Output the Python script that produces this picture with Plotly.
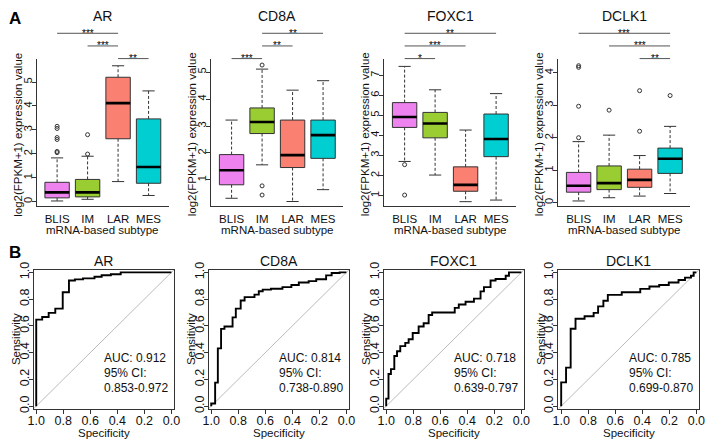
import plotly.graph_objects as go

# ---------------- data ----------------
subtypes = ["BLIS", "IM", "LAR", "MES"]
genes = ["AR", "CD8A", "FOXC1", "DCLK1"]
box_colors = ["#EE82EE", "#9ACD32", "#FA8072", "#00CED1"]

# boxplot statistics (order: BLIS, IM, LAR, MES)
box_q1 = {"AR": [0.16, 0.20, 2.63, 0.77], "CD8A": [0.82, 2.72, 1.46, 1.80],
          "FOXC1": [4.40, 3.88, 1.21, 2.94], "DCLK1": [0.32, 0.40, 0.47, 0.90]}
box_median = {"AR": [0.39, 0.39, 4.12, 1.45], "CD8A": [1.36, 3.15, 1.92, 2.66],
              "FOXC1": [4.92, 4.60, 1.53, 3.82], "DCLK1": [0.52, 0.60, 0.70, 1.35]}
box_q3 = {"AR": [0.81, 0.93, 5.20, 3.46], "CD8A": [1.94, 3.67, 3.22, 3.22],
          "FOXC1": [5.64, 5.15, 2.43, 5.07], "DCLK1": [0.93, 1.13, 1.03, 1.68]}
whisker_low = {"AR": [0.03, 0.10, 0.84, 0.26], "CD8A": [0.32, 1.56, 0.20, 0.64],
               "FOXC1": [2.70, 2.02, 0.69, 0.77], "DCLK1": [0.05, 0.15, 0.20, 0.28]}
whisker_high = {"AR": [1.83, 1.90, 5.68, 4.63], "CD8A": [3.22, 5.11, 4.33, 4.68],
                "FOXC1": [7.45, 6.28, 4.27, 6.09], "DCLK1": [1.88, 2.08, 1.45, 2.35]}
outliers = {"AR": [[2.05, 2.10, 2.60, 2.68, 3.06, 3.15], [1.99, 2.80], [], []],
            "CD8A": [[], [5.26, 0.78, 0.44], [], []],
            "FOXC1": [[2.54, 1.02], [], [], []],
            "DCLK1": [[4.22, 4.17, 2.97, 2.00], [2.85], [2.20, 3.45], [3.30]]}
box_yrange = {"AR": [-0.2, 5.98], "CD8A": [0.016, 5.5], "FOXC1": [0.45, 7.84], "DCLK1": [-0.12, 4.44]}

# significance comparisons, listed top to bottom (group indices 1..4)
sig_from = {"AR": [1, 2, 3], "CD8A": [2, 2, 1], "FOXC1": [1, 1, 1], "DCLK1": [1, 2, 3]}
sig_to = {"AR": [3, 3, 4], "CD8A": [4, 3, 2], "FOXC1": [4, 3, 2], "DCLK1": [4, 4, 4]}
sig_label = {"AR": ["***", "***", "**"], "CD8A": ["**", "**", "***"],
             "FOXC1": ["**", "***", "*"], "DCLK1": ["***", "***", "**"]}

# ROC step curves (specificity, sensitivity)
roc_spec = {
    "AR": [1.0, 1.0, 0.956, 0.908, 0.859, 0.804, 0.758, 0.714, 0.654, 0.569, 0.516, 0.448, 0.375, 0.0],
    "CD8A": [1.0, 1.0, 0.971, 0.951, 0.927, 0.902, 0.842, 0.818, 0.782, 0.753, 0.68, 0.648, 0.619,
             0.558, 0.473, 0.407, 0.352, 0.279, 0.223, 0.15, 0.109, 0.05, 0.0],
    "FOXC1": [1.0, 1.0, 0.983, 0.965, 0.94, 0.92, 0.896, 0.859, 0.834, 0.804, 0.76, 0.723, 0.686,
              0.66, 0.493, 0.463, 0.413, 0.351, 0.302, 0.277, 0.228, 0.191, 0.116, 0.092, 0.0],
    "DCLK1": [1.0, 1.0, 0.964, 0.93, 0.894, 0.827, 0.76, 0.727, 0.688, 0.655, 0.552, 0.415, 0.347,
              0.275, 0.204, 0.132, 0.084, 0.04, 0.02, 0.0],
}
roc_sens = {
    "AR": [0.0, 0.647, 0.667, 0.697, 0.729, 0.852, 0.939, 0.948, 0.955, 0.967, 0.979, 0.986, 1.0, 1.0],
    "CD8A": [0.0, 0.02, 0.176, 0.432, 0.578, 0.595, 0.664, 0.729, 0.79, 0.815, 0.834, 0.859, 0.871,
             0.878, 0.89, 0.906, 0.924, 0.935, 0.949, 0.978, 0.995, 1.0, 1.0],
    "FOXC1": [0.0, 0.056, 0.24, 0.277, 0.375, 0.41, 0.449, 0.473, 0.5, 0.547, 0.596, 0.62, 0.681,
              0.70, 0.735, 0.76, 0.78, 0.804, 0.858, 0.89, 0.939, 0.951, 0.975, 1.0, 1.0],
    "DCLK1": [0.0, 0.178, 0.288, 0.579, 0.653, 0.672, 0.697, 0.746, 0.788, 0.832, 0.852, 0.877, 0.894,
              0.906, 0.924, 0.943, 0.961, 0.975, 1.0, 1.0],
}
auc_value = {"AR": "0.912", "CD8A": "0.814", "FOXC1": "0.718", "DCLK1": "0.785"}
auc_ci = {"AR": "0.853-0.972", "CD8A": "0.738-0.890", "FOXC1": "0.639-0.797", "DCLK1": "0.699-0.870"}
roc_ticks = [0.0, 0.2, 0.4, 0.6, 0.8, 1.0]

# ---------------- layout helpers ----------------
W, H = 709, 443
FONT = "Liberation Sans, Arial, sans-serif"
AX = "#333333"
top_px_x = [(31.5, 165.5), (209, 343), (385, 519), (562, 696)]
top_px_y = (52, 204)
bot_px_x = [(28, 171), (206, 349), (384, 527), (562, 705)]
bot_px_y = (269, 412)
sig_px_y = [26, 39, 52]


def fx(p):
    return p / W


def fy(p):
    return 1 - p / H


fig = go.Figure()
layout = dict(width=W, height=H, margin=dict(l=0, r=0, t=0, b=0), showlegend=False,
              plot_bgcolor="white", paper_bgcolor="white", font=dict(family=FONT, color="#111"))
annotations = []
shapes = []
BOXW = 0.4  # half width
CAPW = 0.2

for i, g in enumerate(genes):
    n = i + 1
    xa, ya = ("x", "y") if n == 1 else (f"x{n}", f"y{n}")
    xk, yk = ("xaxis", "yaxis") if n == 1 else (f"xaxis{n}", f"yaxis{n}")
    # boxes
    wx, wy, cx, cy, mx, my = [], [], [], [], [], []
    for j in range(4):
        c = j + 1
        lo, a, m, b, hi = whisker_low[g][j], box_q1[g][j], box_median[g][j], box_q3[g][j], whisker_high[g][j]
        fig.add_trace(go.Scatter(x=[c - BOXW, c + BOXW, c + BOXW, c - BOXW, c - BOXW], y=[a, a, b, b, a],
                                 mode="lines", fill="toself", fillcolor=box_colors[j],
                                 line=dict(color=AX, width=1), xaxis=xa, yaxis=ya, hoverinfo="skip"))
        wx += [c, c, None, c, c, None]
        wy += [b, hi, None, a, lo, None]
        cx += [c - CAPW, c + CAPW, None, c - CAPW, c + CAPW, None]
        cy += [hi, hi, None, lo, lo, None]
        mx += [c - BOXW, c + BOXW, None]
        my += [m, m, None]
    fig.add_trace(go.Scatter(x=wx, y=wy, mode="lines", line=dict(color=AX, width=1, dash="3px,2px"),
                             xaxis=xa, yaxis=ya, hoverinfo="skip"))
    fig.add_trace(go.Scatter(x=cx, y=cy, mode="lines", line=dict(color=AX, width=1),
                             xaxis=xa, yaxis=ya, hoverinfo="skip"))
    fig.add_trace(go.Scatter(x=mx, y=my, mode="lines", line=dict(color="black", width=2.6),
                             xaxis=xa, yaxis=ya, hoverinfo="skip"))
    ox, oy = [], []
    for j in range(4):
        ox += [j + 1] * len(outliers[g][j])
        oy += outliers[g][j]
    fig.add_trace(go.Scatter(x=ox, y=oy, mode="markers",
                             marker=dict(symbol="circle-open", size=4, color=AX, line=dict(width=1)),
                             xaxis=xa, yaxis=ya, hoverinfo="skip", cliponaxis=False))
    x0, x1 = top_px_x[i]
    layout[xk] = dict(domain=[fx(x0), fx(x1)], anchor=ya, range=[0.34, 4.66], showline=True,
                      linecolor=AX, linewidth=1, ticks="", tickvals=[1, 2, 3, 4], ticktext=subtypes,
                      tickfont=dict(size=11.5), showgrid=False, zeroline=False, fixedrange=True,
                      ticklabelstandoff=2)
    layout[yk] = dict(domain=[fy(top_px_y[1]), fy(top_px_y[0])], anchor=xa, range=box_yrange[g],
                      showline=True, linecolor=AX, linewidth=1, ticks="outside", ticklen=4,
                      tickcolor=AX, dtick=1, tickangle=-90, tickfont=dict(size=11),
                      showgrid=False, zeroline=False, fixedrange=True, ticklabelstandoff=-4)
    # titles
    annotations.append(dict(text=g, x=fx((x0 + x1) / 2), y=fy(8.5), xref="paper", yref="paper",
                            showarrow=False, font=dict(size=14), xanchor="center", yanchor="middle"))
    annotations.append(dict(text="mRNA-based subtype", x=fx((x0 + x1) / 2), y=fy(228), xref="paper",
                            yref="paper", showarrow=False, font=dict(size=11.5), xanchor="center",
                            yanchor="middle"))
    annotations.append(dict(text="log2(FPKM+1) expression value", x=fx(x0 - 19), y=fy(130),
                            xref="paper", yref="paper", showarrow=False, font=dict(size=11.5),
                            textangle=-90, xanchor="center", yanchor="middle"))
    # significance bars
    for k in range(3):
        a, b = sig_from[g][k], sig_to[g][k]
        shapes.append(dict(type="line", xref=xa, yref="paper", x0=a, x1=b,
                           y0=fy(sig_px_y[k]), y1=fy(sig_px_y[k]), line=dict(color="#555", width=1)))
        annotations.append(dict(text=sig_label[g][k], x=(a + b) / 2, y=fy(sig_px_y[k]), xref=xa,
                                yref="paper", showarrow=False, font=dict(size=10, color="black"),
                                xanchor="center", yanchor="middle"))

# ROC panels
for i, g in enumerate(genes):
    n = i + 5
    xa, ya = f"x{n}", f"y{n}"
    xk, yk = f"xaxis{n}", f"yaxis{n}"
    fig.add_trace(go.Scatter(x=[1.02, -0.02], y=[-0.02, 1.02], mode="lines",
                             line=dict(color="#BBBBBB", width=1), xaxis=xa, yaxis=ya, hoverinfo="skip"))
    fig.add_trace(go.Scatter(x=roc_spec[g], y=roc_sens[g], mode="lines", line_shape="hv",
                             line=dict(color="black", width=1.9), xaxis=xa, yaxis=ya))
    x0, x1 = bot_px_x[i]
    common = dict(showline=True, mirror=True, linecolor=AX, linewidth=1, ticks="outside", ticklen=4,
                  tickcolor=AX, tickvals=roc_ticks, ticktext=[f"{v:.1f}" for v in roc_ticks],
                  tickfont=dict(size=12.5), showgrid=False, zeroline=False, fixedrange=True)
    layout[xk] = dict(domain=[fx(x0), fx(x1)], anchor=ya, range=[1.02, -0.02],
                      ticklabelstandoff=-4, **common)
    layout[yk] = dict(domain=[fy(bot_px_y[1]), fy(bot_px_y[0])], anchor=xa, range=[-0.02, 1.02],
                      tickangle=-90, ticklabelstandoff=-5, **common)
    annotations.append(dict(text=g, x=fx((x0 + x1) / 2), y=fy(260), xref="paper", yref="paper",
                            showarrow=False, font=dict(size=14), xanchor="center", yanchor="middle"))
    annotations.append(dict(text="Specificity", x=fx((x0 + x1) / 2), y=fy(437), xref="paper",
                            yref="paper", showarrow=False, font=dict(size=11.5), xanchor="center",
                            yanchor="middle"))
    annotations.append(dict(text="Sensitivity", x=fx(x0 - 18), y=fy((bot_px_y[0] + bot_px_y[1]) / 2),
                            xref="paper", yref="paper", showarrow=False, font=dict(size=11.5),
                            textangle=-90, xanchor="center", yanchor="middle"))
    for k, t in enumerate([f"AUC: {auc_value[g]}", "95% CI:", auc_ci[g]]):
        annotations.append(dict(text=t, x=0.515, y=[0.36, 0.25, 0.135][k], xref=xa, yref=ya,
                                showarrow=False, font=dict(size=12), xanchor="left", yanchor="middle"))

annotations.append(dict(text="<b>A</b>", x=fx(1), y=fy(11), xref="paper", yref="paper", showarrow=False,
                        font=dict(size=17, color="black"), xanchor="left", yanchor="middle"))
annotations.append(dict(text="<b>B</b>", x=fx(1), y=fy(251), xref="paper", yref="paper", showarrow=False,
                        font=dict(size=17, color="black"), xanchor="left", yanchor="middle"))

layout["annotations"] = annotations
layout["shapes"] = shapes
fig.update_layout(**layout)
fig.write_html("out.html", config={"displayModeBar": False},
               post_script="document.body.style.margin='0';document.body.style.overflow='hidden';"
                           "document.documentElement.style.overflow='hidden';")
